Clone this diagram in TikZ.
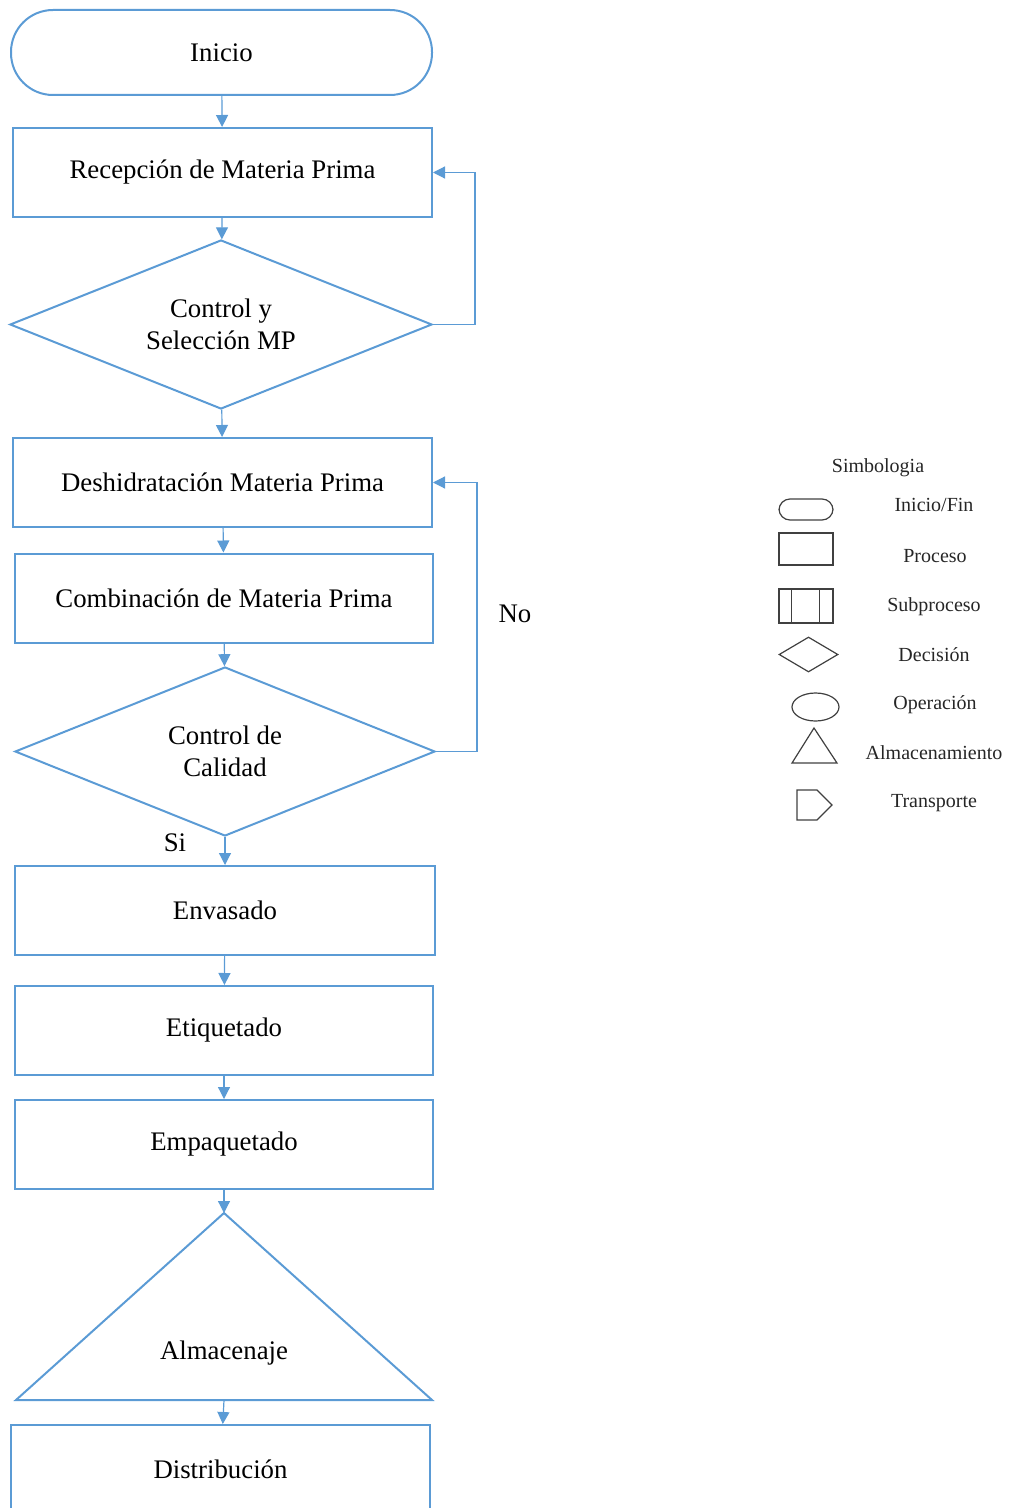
\documentclass[tikz,border=0pt]{standalone}
\usepackage{fontspec}
\setmainfont{Liberation Serif}
\usepackage{tikz}
\definecolor{cBlue}{HTML}{5B9BD5}
\definecolor{cGray}{HTML}{404040}
\usetikzlibrary{shapes.geometric,arrows.meta}
\tikzset{
	box/.style={draw=cBlue, line width=1pt, minimum width=209.5pt, minimum height=44.5pt, inner sep=0pt, font=\fontsize{13.4}{16}\selectfont, align=center},
	term/.style={box, rounded corners=21pt, minimum width=210.5pt, minimum height=42.5pt},
	decis/.style={box, diamond, aspect=2.5, minimum width=211pt, minimum height=84.5pt},
	flow/.style={draw=cBlue, line width=0.6pt, -{Triangle[width=6pt,length=6pt]}},
	sym/.style={draw=cGray, line width=0.6pt, inner sep=0pt},
	lbl/.style={font=\fontsize{10}{12}\selectfont, text=black!85}
}

\begin{document}
\begin{tikzpicture}[x=0.5pt, y=-0.5pt]
		\useasboundingbox (0,0) rectangle (1010,1508);
		\clip (0,0) rectangle (1010,1508);
		\node[term] (inicio) at (221.5,52.5) {Inicio};
		\node[box] (recep) at (222.5,172.5) {Recepción de Materia Prima};
		\node[decis] (ctrl1) at (221,324.5) {Control y\\Selección MP};
		\node[box] (desh) at (222.5,482.5) {Deshidratación Materia Prima};
		\node[box, minimum width=209pt] (comb) at (224,598) {Combinación de Materia Prima};
		\node[decis, minimum width=210pt] (ctrl2) at (225,751.5) {Control de\\Calidad};
		\node[box, minimum width=210pt] (envas) at (225,910.5) {Envasado};
		\node[box, minimum width=209pt] (etiq) at (224,1030.5) {Etiquetado};
		\node[box, minimum width=209pt] (empaq) at (224,1144.5) {Empaquetado};
		\draw[draw=cBlue, line width=1pt] (224,1213) coordinate (almtop) -- (432,1400) -- (16,1400) -- cycle;
		\coordinate (almbase) at (224,1400);
		\node[font=\fontsize{13.4}{16}\selectfont] (almac) at (224,1353) {Almacenaje};
		\node[box] (distr) at (220.5,1469.5) {Distribución};
		\node[font=\fontsize{13.4}{16}\selectfont] (si) at (175,843) {Si};
		\node[font=\fontsize{13.4}{16}\selectfont] (no) at (515,614) {No};
		\draw[flow] (inicio) -- (recep);
		\draw[flow] (recep) -- (ctrl1);
		\draw[flow] (ctrl1) -- (desh);
		\draw[flow] (desh) -- (comb);
		\draw[flow] (comb) -- (ctrl2);
		\draw[flow] (ctrl2) -- (envas);
		\draw[flow] (envas) -- (etiq);
		\draw[flow] (etiq) -- (empaq);
		\draw[flow] (empaq) -- (almtop);
		\draw[flow] (almbase) -- (distr);
		\draw[flow] (ctrl1.east) -- ++(42,0) |- (recep.east);
		\draw[flow] (ctrl2.east) -- ++(41,0) |- (desh.east);
		%legend
		\node[lbl] (simb) at (878,468) {Simbologia};
		\node[sym, rounded corners=5.5pt, minimum width=27pt, minimum height=10.5pt] (s-term) at (806,509.5) {};
		\node[sym, minimum width=27pt, minimum height=16pt] (s-proc) at (806,549) {};
		\node[sym, minimum width=27pt, minimum height=17pt] (s-sub) at (806,606) {};
		\draw[sym] ([xshift=6.5pt]s-sub.north west) -- ([xshift=6.5pt]s-sub.south west);
		\draw[sym] ([xshift=-7pt]s-sub.north east) -- ([xshift=-7pt]s-sub.south east);
		\node[sym, diamond, minimum width=29.5pt, minimum height=17.5pt] (s-dec) at (808.5,654.5) {};
		\node[sym, ellipse, minimum width=23.5pt, minimum height=14pt] (s-op) at (815.5,707) {};
		\draw[sym] (814,728) -- (837,763) -- (792,763) -- cycle;
		\draw[sym] (797,790) -- (817,790) -- (832,805) -- (817,820) -- (797,820) -- cycle;
		\node[lbl] (l-term) at (934,505) {Inicio/Fin};
		\node[lbl] (l-proc) at (935,556) {Proceso};
		\node[lbl] (l-sub) at (934,607) {Subproceso};
		\node[lbl] (l-dec) at (934,655) {Decisión};
		\node[lbl] (l-op) at (935,705) {Operación};
		\node[lbl] (l-alm) at (934,753) {Almacenamiento};
		\node[lbl] (l-tra) at (934,803) {Transporte};
		\end{tikzpicture}
\end{document}
